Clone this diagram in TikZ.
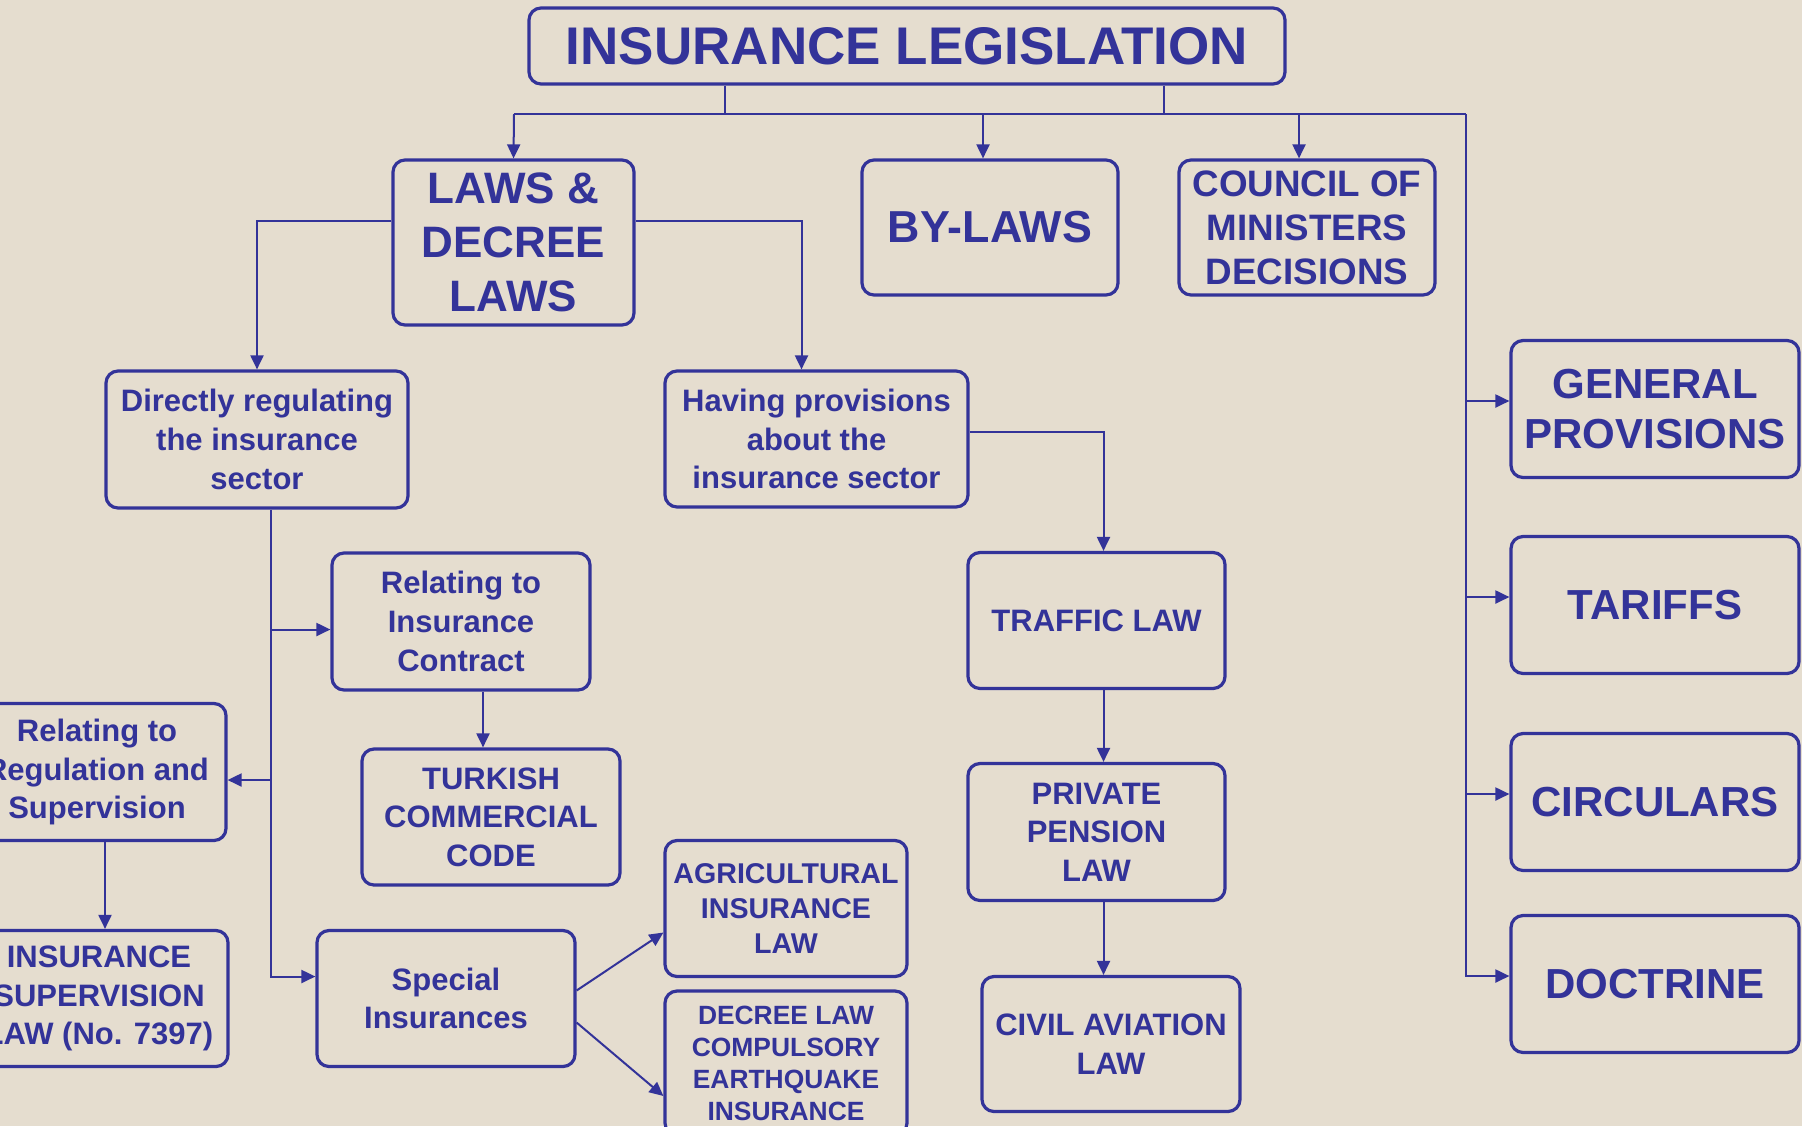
\documentclass[tikz,border=0pt]{standalone}
\usepackage{fontspec}
\setmainfont{Liberation Sans}
\usetikzlibrary{arrows.meta}

\definecolor{inkblue}{RGB}{51,51,153}
\definecolor{paper}{RGB}{229,221,207}

\tikzset{
	box/.style={draw=inkblue, line width=1.6pt, rounded corners=6pt, text=inkblue, align=center, inner sep=0pt},
	big/.style={font=\fontsize{21}{24.7}\selectfont\bfseries},
	mid/.style={font=\fontsize{15.5}{19.3}\selectfont\bfseries},
	link/.style={draw=inkblue, line width=1pt},
	arr/.style={link, -{Triangle[length=7pt,width=6.5pt]}},
}

\begin{document}
\begin{tikzpicture}[x=0.5pt,y=-0.5pt]

\useasboundingbox (0,0) rectangle (1802,1126);
\fill[paper] (0,0) rectangle (1802,1126);
\clip (0,0) rectangle (1802,1126);

\node[box, minimum width=378pt, minimum height=38pt, font=\fontsize{26.5}{30}\selectfont\bfseries] (title) at (907,46) {INSURANCE LEGISLATION};

\node[box, minimum width=120.5pt, minimum height=82.5pt, font=\fontsize{22}{27}\selectfont\bfseries] (laws) at (513.5,242.5) {LAWS \&\\DECREE\\LAWS};
\node[box, minimum width=128pt, minimum height=67.5pt, font=\fontsize{22.4}{27}\selectfont\bfseries] (bylaws) at (990,227.5) {BY-LAWS};
\node[box, minimum width=128pt, minimum height=67.5pt, font=\fontsize{18.4}{22}\selectfont\bfseries] (council) at (1307,227.5) {COUNCIL OF\\MINISTERS\\DECISIONS};

% right column
\foreach \n/\y/\t in {general/409/{GENERAL\\PROVISIONS}, tariffs/605/TARIFFS, circulars/802/CIRCULARS, doctrine/984/DOCTRINE}{
	\node[box, big, minimum width=144pt, minimum height=68.5pt] (\n) at (1655,\y) {\t};
}

\node[box, mid, minimum width=151pt, minimum height=68.5pt] (direct) at (257,439.5) {Directly regulating\\the insurance\\sector};
\node[box, mid, minimum width=151.5pt, minimum height=68pt] (having) at (816.5,439) {Having provisions\\about the\\insurance sector};

\node[box, mid, minimum width=129pt, minimum height=68.5pt] (contract) at (461,621.5) {Relating to\\Insurance\\Contract};
\node[box, mid, minimum width=129pt, minimum height=68pt] (turkish) at (491,817) {TURKISH\\COMMERCIAL\\CODE};
\node[box, mid, minimum width=129pt, minimum height=68.5pt] (regulation) at (97,772) {Relating to\\Regulation and\\Supervision};
\node[box, mid, minimum width=129pt, minimum height=68pt] (supervision) at (99,998.5) {INSURANCE\\SUPERVISION\\LAW (No. 7397)};
\node[box, mid, minimum width=129pt, minimum height=68pt] (special) at (446,998.5) {Special\\Insurances};
\node[box, minimum width=121pt, minimum height=68pt, font=\fontsize{14.3}{17.5}\selectfont\bfseries] (agri) at (786,908.5) {AGRICULTURAL\\INSURANCE\\LAW};
\node[box, minimum width=121pt, minimum height=72pt, font=\fontsize{13.2}{16}\selectfont\bfseries] (decree) at (786,1063) {DECREE LAW\\COMPULSORY\\EARTHQUAKE\\INSURANCE};

\node[box, mid, minimum width=128.5pt, minimum height=68pt] (traffic) at (1096.5,620.5) {TRAFFIC LAW};
\node[box, mid, minimum width=128.5pt, minimum height=68.5pt] (pension) at (1096.5,832) {PRIVATE\\PENSION\\LAW};
\node[box, mid, minimum width=129pt, minimum height=67.5pt] (civil) at (1111,1044) {CIVIL AVIATION\\LAW};

% top bus
\coordinate (busL) at (514,114);
\coordinate (busR) at (1466,114);
\draw[link] ([xshift=-91pt]title.south) -- ([xshift=-91pt]title.south |- busL);
\draw[link] ([xshift=128.5pt]title.south) -- ([xshift=128.5pt]title.south |- busL);
\draw[link] (busL) -- (busR);
\draw[arr] (busL) -- (laws.north);
\draw[arr] ([xshift=-3.5pt]bylaws.north |- busL) -- ([xshift=-3.5pt]bylaws.north);
\draw[arr] ([xshift=-4pt]council.north |- busL) -- ([xshift=-4pt]council.north);

\draw[arr] (busR) |- ([yshift=4pt]doctrine.west);
\foreach \n in {general,tariffs,circulars}{
	\draw[arr] ([yshift=4pt]busR |- \n.west) -- ([yshift=4pt]\n.west);
}

\draw[arr] ([yshift=11pt]laws.west) -| (direct.north);
\draw[arr] ([yshift=11pt]laws.east) -| ([xshift=-7.5pt]having.north);

\draw[arr] ([yshift=3.5pt]having.east) -| ([xshift=3.5pt]traffic.north);
\draw[arr] ([xshift=3.5pt]traffic.south) -- ([xshift=3.5pt]pension.north);
\draw[arr] ([xshift=3.5pt]pension.south) -- ([xshift=3.5pt]pension.south |- civil.north);

% left trunk
\coordinate (trunk) at ([xshift=7pt]direct.south);
\draw[arr] (trunk) |- ([yshift=11pt]special.west);
\draw[arr] ([yshift=-4pt]trunk |- contract.west) -- ([yshift=-4pt]contract.west);
\draw[arr] ([yshift=-4pt]trunk |- regulation.east) -- ([yshift=-4pt]regulation.east);
\draw[arr] ([xshift=11pt]contract.south) -- ([xshift=11pt]contract.south |- turkish.north);
\draw[arr] ([xshift=4pt]regulation.south) -- ([xshift=4pt]regulation.south |- supervision.north);

\draw[arr] ([yshift=4pt]special.east) -- ([yshift=-12pt]agri.west);
\draw[arr] ([yshift=-12pt]special.east) -- ([yshift=-16.5pt]decree.west);

\end{tikzpicture}
\end{document}
